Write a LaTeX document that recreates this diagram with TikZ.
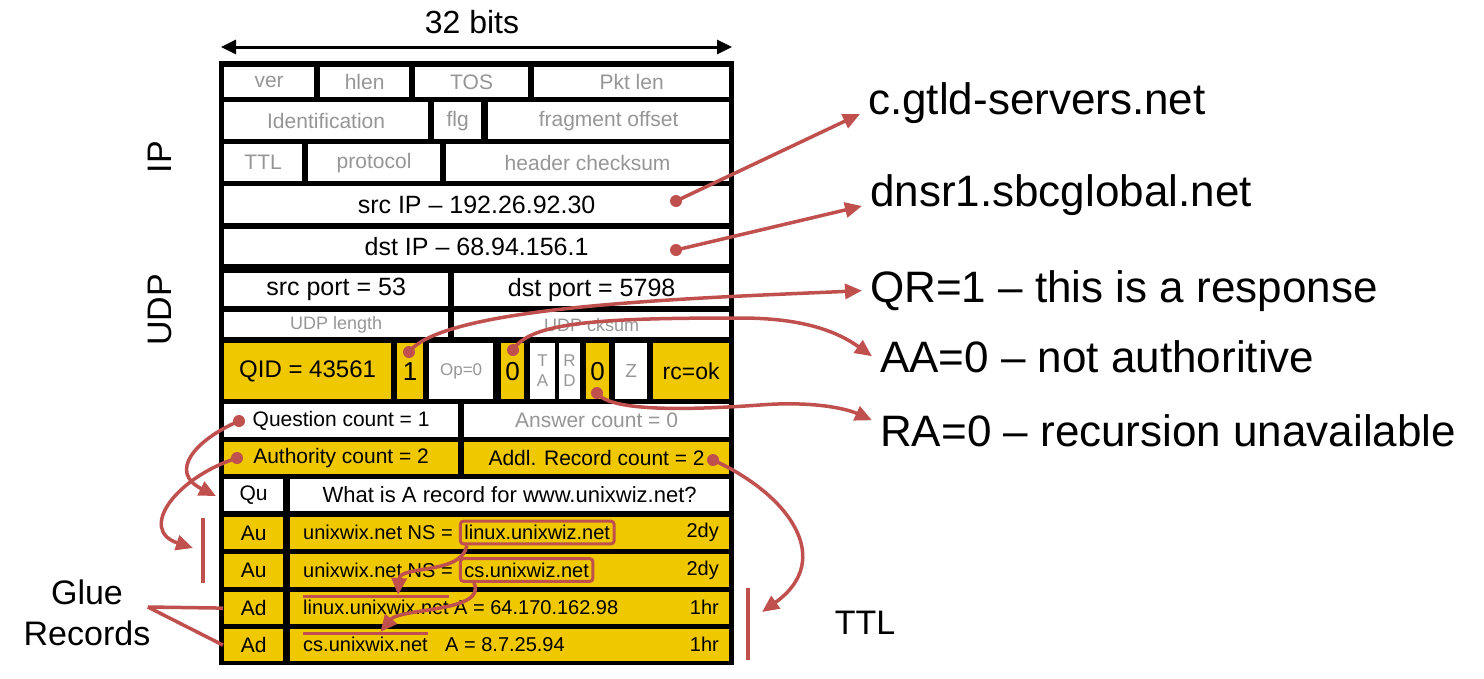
\documentclass[tikz,border=0pt]{standalone}
\usepackage{fontspec}
\setmainfont{Liberation Sans}
\usetikzlibrary{arrows.meta,positioning}
\definecolor{fieldyellow}{RGB}{240,200,0}
\definecolor{notered}{RGB}{192,80,77}
\definecolor{fieldgrey}{RGB}{150,150,150}

\begin{document}
\begin{tikzpicture}[x=1pt,y=-1pt,
  cell/.style={draw=black, line width=1.2pt, fill=white, anchor=north west, inner sep=0pt, font=\fontsize{21}{24}\selectfont},
  ycell/.style={cell, fill=fieldyellow},
  gcell/.style={cell, text=fieldgrey},
  big/.style={font=\fontsize{25}{28}\selectfont},
  rec/.style={inner sep=0pt, font=\fontsize{20}{24}\selectfont},
  note/.style={anchor=base west, inner sep=8pt, font=\fontsize{44}{48}\selectfont},
  side/.style={font=\fontsize{34}{41}\selectfont},
  dot/.style={circle, fill=notered, inner sep=0pt, minimum size=12pt},
  link/.style={draw=notered, line width=3.5pt, -{Triangle[length=17pt,width=15pt]}},
  hilite/.style={draw=notered, line width=3pt, rounded corners=3pt, inner sep=4pt},
  rbar/.style={draw=notered, line width=4.5pt},
  span/.style={draw=black, line width=3pt, {Triangle[length=15pt,width=14pt]}-{Triangle[length=15pt,width=14pt]}},
]
  \useasboundingbox (0,0) rectangle (1484,678);

  % 32 bit width
  \coordinate (wl) at (221,47);
  \coordinate (wr) at (732,47);
  \draw[span] (wl) -- (wr);
  \node[font=\fontsize{32}{36}\selectfont] (widthlbl) at (472,22) {32 bits};

  \fill[black] (219,61) rectangle (734,665);

  % IP header
  \node[gcell, minimum width=91, minimum height=31] (ver) at (223,66) {ver};
  \node[gcell, minimum width=90, minimum height=31] (hlen) at (319,66) {hlen};
  \node[gcell, minimum width=114, minimum height=31] (tos) at (414,66) {TOS};
  \node[gcell, minimum width=196, minimum height=31] (pktlen) at (533,66) {Pkt len};
  \node[gcell, minimum width=205, minimum height=38] (ident) at (223,101) {Identification};
  \node[gcell, minimum width=48, minimum height=38] (flg) at (433,101) {flg};
  \node[gcell, minimum width=242, minimum height=38] (fragoff) at (487,101) {fragment offset};
  \node[gcell, minimum width=79, minimum height=38] (ttl) at (223,143) {TTL};
  \node[gcell, minimum width=133, minimum height=38] (proto) at (307,143) {protocol};
  \node[gcell, minimum width=284, minimum height=38] (hdrsum) at (445,143) {header checksum};
  \node[cell, big, minimum width=506, minimum height=38] (srcip) at (223,185) {src IP – 192.26.92.30};
  \node[cell, big, minimum width=506, minimum height=36] (dstip) at (223,228) {dst IP – 68.94.156.1};

  % UDP header
  \node[cell, big, minimum width=225, minimum height=34] (srcport) at (223,272) {src port = 53};
  \node[cell, big, minimum width=276, minimum height=34] (dstport) at (453,272) {dst port = 5798};
  \node[gcell, font=\fontsize{18}{20}\selectfont, minimum width=225, minimum height=26] (udplen) at (223,311) {UDP length};
  \node[gcell, font=\fontsize{18}{20}\selectfont, minimum width=276, minimum height=26] (udpsum) at (453,311) {UDP cksum};

  % DNS flags
  \node[ycell, font=\fontsize{24}{26}\selectfont, minimum width=168, minimum height=57] (qid) at (223,342) {QID = 43561};
  \node[ycell, font=\fontsize{26}{28}\selectfont, minimum width=27, minimum height=57] (qr) at (396,342) {1};
  \node[gcell, font=\fontsize{17}{20}\selectfont, minimum width=65, minimum height=57] (opcode) at (428,342) {Op=0};
  \node[ycell, font=\fontsize{26}{28}\selectfont, minimum width=24, minimum height=57] (aa) at (500,342) {0};
  \node[gcell, font=\fontsize{17}{20}\selectfont, align=center, minimum width=26, minimum height=57] (tc) at (529,342) {T\\A};
  \node[gcell, font=\fontsize{17}{20}\selectfont, align=center, minimum width=22, minimum height=57] (rd) at (558,342) {R\\D};
  \node[ycell, font=\fontsize{26}{28}\selectfont, minimum width=24, minimum height=57] (ra) at (585,342) {0};
  \node[gcell, font=\fontsize{19}{20}\selectfont, minimum width=33, minimum height=57] (zz) at (614,342) {Z};
  \node[ycell, font=\fontsize{23}{26}\selectfont, minimum width=77, minimum height=57] (rcode) at (652,342) {rc=ok};

  % counts
  \node[cell, minimum width=235, minimum height=34] (qcount) at (223,403) {Question count = 1};
  \node[gcell, minimum width=266, minimum height=34] (ancount) at (463,403) {Answer count = 0};
  \node[ycell, minimum width=235, minimum height=33] (nscount) at (223,441) {Authority count = 2};
  \node[ycell, minimum width=266, minimum height=33] (arcount) at (463,441) {Addl. Record count = 2};

  % records
  \node[cell, minimum width=60, minimum height=33] (qutag) at (223,478) {Qu};
  \node[cell, font=\fontsize{22}{24}\selectfont, minimum width=440, minimum height=33] (question) at (289,478) {What is A record for www.unixwiz.net?};
  \node[ycell, minimum width=60, minimum height=33] (au1tag) at (223,516) {Au};
  \node[ycell, minimum width=440, minimum height=33] (au1) at (289,516) {};
  \node[ycell, minimum width=60, minimum height=34] (au2tag) at (223,553) {Au};
  \node[ycell, minimum width=440, minimum height=34] (au2) at (289,553) {};
  \node[ycell, minimum width=60, minimum height=33] (ad1tag) at (223,591) {Ad};
  \node[ycell, minimum width=440, minimum height=33] (ad1) at (289,591) {};
  \node[ycell, minimum width=60, minimum height=33] (ad2tag) at (223,628) {Ad};
  \node[ycell, minimum width=440, minimum height=33] (ad2) at (289,628) {};

  \node[rec, anchor=west] (ns1) at (303,532.5) {unixwix.net NS =};
  \node[rec, hilite, right=6pt of ns1] (linuxbox) {linux.unixwiz.net};
  \node[rec, anchor=east] (ttl1) at (719,532.5) {2dy};
  \node[rec, anchor=west] (ns2) at (303,570) {unixwix.net NS =};
  \node[rec, hilite, right=6pt of ns2] (csbox) {cs.unixwiz.net};
  \node[rec, anchor=east] (ttl2) at (719,570) {2dy};
  \node[rec, anchor=west] (glue1) at (303,607.5) {linux.unixwix.net};
  \node[rec, right=5pt of glue1] (addr1) {A = 64.170.162.98};
  \node[rec, anchor=east] (ttl3) at (719,607.5) {1hr};
  \node[rec, anchor=west] (glue2) at (303,644.5) {cs.unixwix.net};
  \node[rec, anchor=west] (addr2) at (445,644.5) {A = 8.7.25.94};
  \node[rec, anchor=east] (ttl4) at (719,644.5) {1hr};
  \draw[notered, line width=3pt] ([yshift=3pt]glue1.north west) -- ([yshift=3pt]glue1.north east);
  \draw[notered, line width=3pt] ([yshift=3pt]glue2.north west) -- ([yshift=3pt]glue2.north east);

  % side labels
  \node[side, rotate=90] (iplbl) at (160,157) {IP};
  \node[side, rotate=90] (udplbl) at (160,310) {UDP};
  \node[side, align=center] (glue) at (87,613) {Glue\\Records};
  \node[side] (ttllbl) at (865,623) {TTL};
  \draw[rbar] (203,518) -- (203,583);
  \draw[rbar] (748,588) -- (748,660);
  \draw[notered, line width=3.5pt] ([xshift=-6pt,yshift=6pt]glue.east) -- (ad1tag.west);
  \draw[notered, line width=3.5pt] ([xshift=-6pt,yshift=6pt]glue.east) -- (ad2tag.west);

  % notes
  \node[note] (gtld) at (860,114) {c.gtld-servers.net};
  \node[note] (dnsr) at (862,206) {dnsr1.sbcglobal.net};
  \node[note] (qrnote) at (862,302) {QR=1 – this is a response};
  \node[note] (aanote) at (872,372) {AA=0 – not authoritive};
  \node[note] (ranote) at (872,446) {RA=0 – recursion unavailable};

  \node[dot] (srcdot) at (676,201) {};
  \node[dot] (dstdot) at (676,250) {};
  \node[dot] (qrdot) at (409,352) {};
  \node[dot] (aadot) at (513,350) {};
  \node[dot] (radot) at (597,393) {};
  \node[dot] (qdot) at (239,421) {};
  \node[dot] (nsdot) at (237,458) {};
  \node[dot] (ardot) at (713,460) {};
  \coordinate (qtip) at (216,496);
  \coordinate (nstip) at (193,548);
  \coordinate (ttltip) at (762,612);

  \draw[link] (srcdot.center) -- (gtld.base west);
  \draw[link] (dstdot.center) -- (dnsr.base west);
  \draw[link] (qrdot.center) .. controls (445,305) and (700,298) .. (qrnote.west);
  \draw[link] (aadot.center) .. controls (530,322) and (600,318) .. (740,318)
    .. controls (800,318) and (835,330) .. (aanote.west);
  \draw[link] (radot.center) .. controls (610,412) and (690,410) .. (760,405)
    .. controls (810,401) and (845,408) .. ([yshift=10pt]ranote.west);
  \draw[link] (qdot.center) .. controls (195,440) and (168,472) .. (qtip);
  \draw[link] (nsdot.center) .. controls (175,478) and (138,530) .. (nstip);
  \draw[link] (ardot.center) .. controls (790,495) and (835,560) .. (ttltip);
  \draw[link] ([xshift=8pt]linuxbox.south west) .. controls (462,575) and (400,565) .. ([xshift=22pt,yshift=5pt]glue1.north);
  \draw[link] ([xshift=15pt]csbox.south west) .. controls (488,612) and (400,608) .. ([xshift=15pt,yshift=5pt]glue2.north);
\end{tikzpicture}
\end{document}
